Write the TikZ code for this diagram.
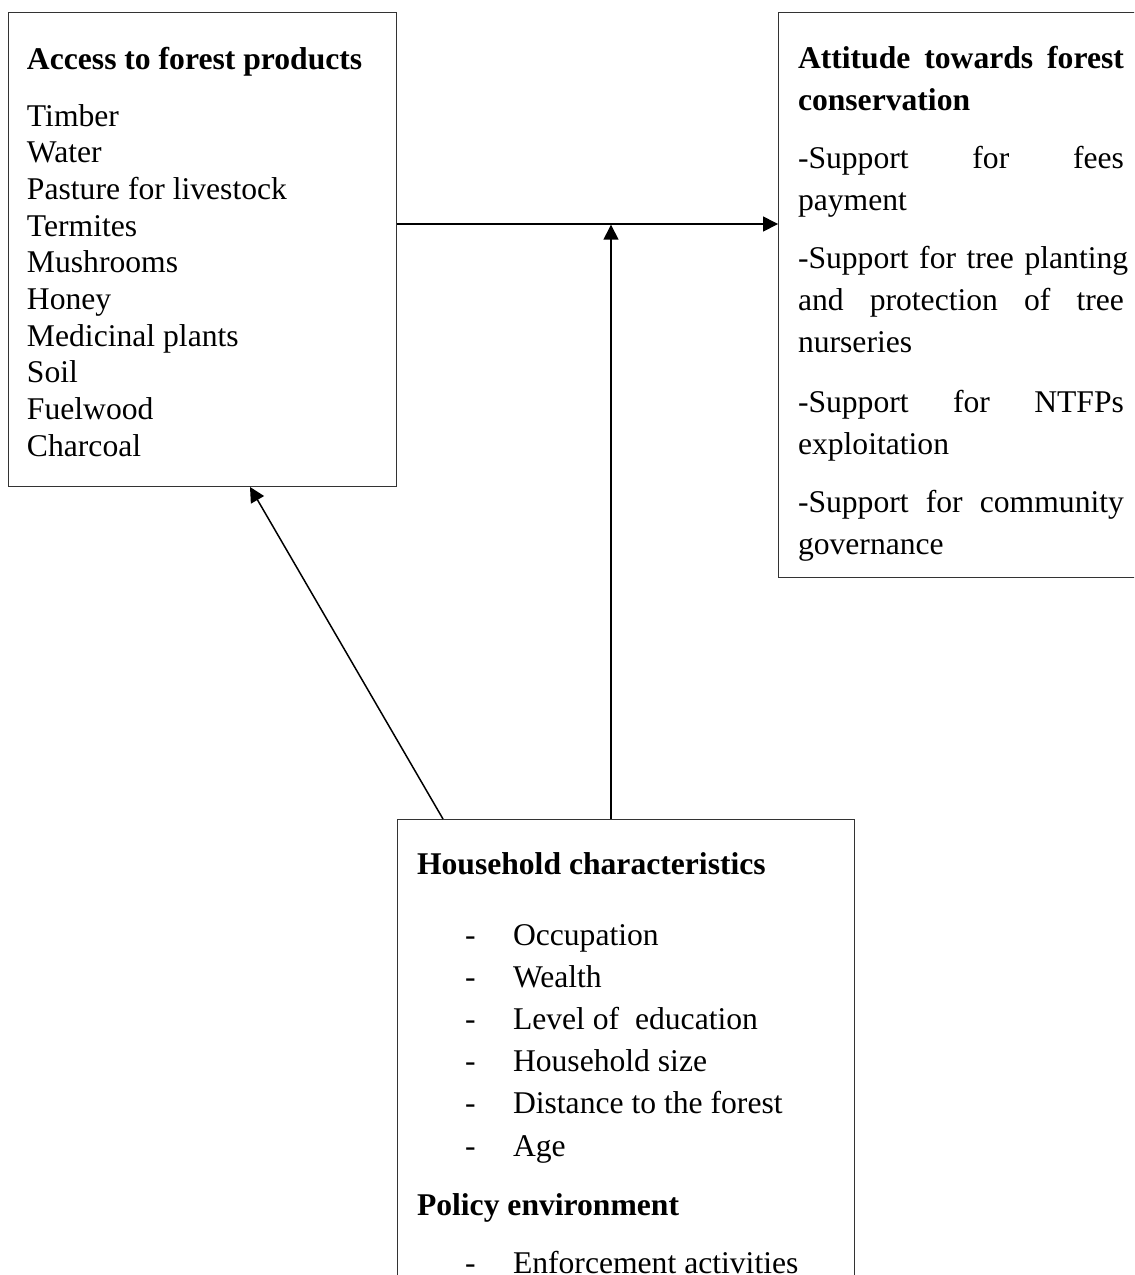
\documentclass[tikz,border=0pt]{standalone}
\usepackage{fontspec}
\setmainfont{Liberation Serif}
\usetikzlibrary{arrows.meta}

\begin{document}
\begin{tikzpicture}
  [x=0.02cm,y=-0.02cm,
   every node/.style={inner sep=0pt,outer sep=0pt,font=\fontsize{18}{21}\selectfont},
   box/.style={draw=black!80,line width=0.6pt,rectangle},
   txt/.style={anchor=base west},
   ttl/.style={anchor=base west,font=\fontsize{18}{21}\selectfont\bfseries},
   wide/.style={anchor=base west,text width=6.52cm,align=left},
   arr/.style={-{Triangle[length=8.5pt,width=8.5pt]},line width=0.85pt}]
  \useasboundingbox (0,0) rectangle (1134,1275);
  \clip (0,0) rectangle (1134,1275);

  \node [box,minimum width=7.78cm,minimum height=9.5cm] (access) at (202.5,249.5) {};
  \node [box,minimum width=7.24cm,minimum height=11.32cm] (attitude) at (959,295) {};
  \node [box,minimum width=9.16cm,minimum height=9.62cm] (household) at (626,1059.5) {};

  \node [ttl] (acctitle) at (27,69) {Access to forest products};
  \foreach \product [count=\i from 0] in {Timber,Water,Pasture for livestock,Termites,Mushrooms,Honey,Medicinal plants,Soil,Fuelwood,Charcoal}
    \node [txt] (acc\i) at (27,{126+36.7*\i}) {\product};

  \node [ttl,text width=6.52cm,align=left] (atttitle) at (798,68) {Attitude\hfill towards\hfill forest};
  \node [ttl] (atttitle2) at (798,110) {conservation};
  \foreach \txtline/\yy [count=\i] in {-Support\hfill for\hfill fees/168,payment/210,{\mbox{-Support for tree planting}}/268,and\hfill protection\hfill of\hfill tree/310,nurseries/352,-Support\hfill for\hfill NTFPs/412,exploitation/454,-Support\hfill for\hfill community/512,governance/554}
    \node [wide] (att\i) at (798,\yy) {\txtline};

  \node [ttl] (hhtitle) at (417,874) {Household characteristics};
  \foreach \trait [count=\i from 0] in {Occupation,Wealth,Level of~ education,Household size,Distance to the forest,Age} {
    \node [txt] (dash\i) at (465,{945+42.2*\i}) {-};
    \node [txt] (trait\i) at (513,{945+42.2*\i}) {\trait};
  }
  \node [ttl] (policy) at (417,1215) {Policy environment};
  \node [txt] (dash6) at (465,1273) {-};
  \node [txt] (enforce) at (513,1273) {Enforcement activities};

  \coordinate (hub) at (611,224);
  \draw [arr] (hub -| access.east) -- (hub -| attitude.west);
  \draw [arr,shorten >=0.4pt] (hub |- household.north) -- (hub);
  \draw [arr] ([xshift=0.92cm]household.north west) -- ([xshift=4.84cm]access.south west);

\end{tikzpicture}
\end{document}
